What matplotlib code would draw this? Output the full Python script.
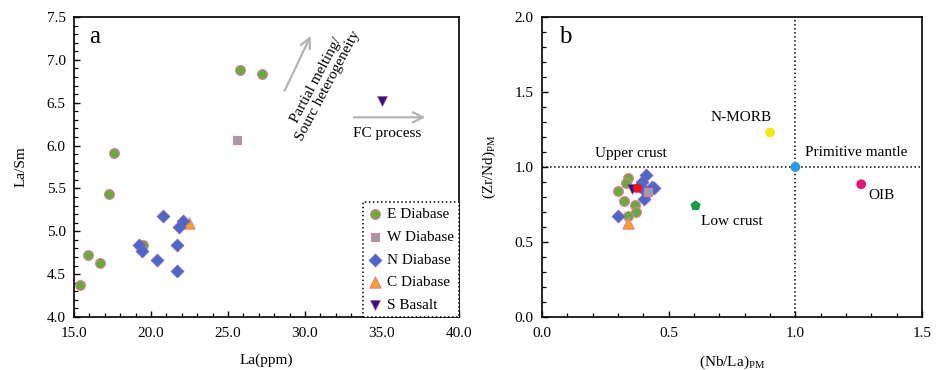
import matplotlib
matplotlib.use("Agg")
import matplotlib.pyplot as plt
from matplotlib.ticker import MultipleLocator, FormatStrFormatter

plt.rcParams['font.family'] = ['Liberation Serif', 'DejaVu Serif']
plt.rcParams['font.size'] = 11

# ---------------- Panel a data: La (ppm) vs La/Sm ----------------
e_la = [15.4, 15.9, 16.7, 17.3, 17.6, 19.5, 25.8, 27.2]
e_lasm = [4.37, 4.72, 4.63, 5.43, 5.91, 4.84, 6.88, 6.83]
w_la = [25.6]
w_lasm = [6.06]
n_la = [19.2, 19.4, 20.4, 20.8, 21.7, 21.7, 21.8, 22.1]
n_lasm = [4.84, 4.77, 4.66, 5.18, 4.84, 4.54, 5.05, 5.12]
c_la = [22.5]
c_lasm = [5.10]
s_la = [35.0]
s_lasm = [6.52]

# ---------------- Panel b data: (Nb/La)PM vs (Zr/Nd)PM ----------------
e_nbla = [0.338, 0.331, 0.301, 0.322, 0.368, 0.371, 0.340]
e_zrnd = [0.929, 0.895, 0.840, 0.775, 0.747, 0.702, 0.675]
n_nbla = [0.412, 0.395, 0.432, 0.390, 0.415, 0.402, 0.301, 0.442]
n_zrnd = [0.945, 0.900, 0.870, 0.870, 0.830, 0.790, 0.673, 0.860]
w_nbla = [0.417]
w_zrnd = [0.835]
c_nbla = [0.340]
c_zrnd = [0.630]
s_nbla = [0.354]
s_zrnd = [0.853]
ref_names = ['Upper crust', 'N-MORB', 'Primitive mantle', 'OIB', 'Low crust']
ref_nbla = [0.377, 0.90, 1.0, 1.26, 0.606]
ref_zrnd = [0.858, 1.23, 1.0, 0.885, 0.742]

EDGE = '#d9819b'
C_E = '#6aaa3c'
C_W = '#9c9ea6'
C_N = '#4a68c8'
C_C = '#f8a21e'
C_S = '#2a1888'

fig = plt.figure(figsize=(9.39, 3.70), dpi=100)
axa = fig.add_axes([0.0788, 0.1432, 0.4100, 0.8108])
axb = fig.add_axes([0.5773, 0.1432, 0.4046, 0.8108])

ms = 50
def style_axis(ax):
    ax.tick_params(which='both', direction='in', top=False, right=False, labelsize=11)
    ax.tick_params(which='major', length=4, width=1)
    ax.tick_params(which='minor', length=3, width=0.9)
    ax.tick_params(axis='x', which='major', pad=7)
    ax.tick_params(axis='y', which='major', pad=6)
    for s in ax.spines.values():
        s.set_linewidth(1.2)

# Panel a
axa.scatter(e_la, e_lasm, s=ms, marker='o', c=C_E, edgecolors=EDGE, linewidths=0.8, zorder=3, label='E Diabase')
axa.scatter(w_la, w_lasm, s=ms*0.8, marker='s', c=C_W, edgecolors=EDGE, linewidths=0.8, zorder=3, label='W Diabase')
axa.scatter(n_la, n_lasm, s=ms*0.85, marker='D', c=C_N, edgecolors='#8a5fb8', linewidths=0.6, zorder=4, label='N Diabase')
axa.scatter(c_la, c_lasm, s=ms*1.3, marker='^', c=C_C, edgecolors=EDGE, linewidths=0.8, zorder=3, label='C Diabase')
axa.scatter(s_la, s_lasm, s=ms, marker='v', c=C_S, edgecolors='#c04080', linewidths=0.5, zorder=3, label='S Basalt')

axa.set_xlim(15, 40)
axa.set_ylim(4.0, 7.5)
axa.xaxis.set_major_locator(MultipleLocator(5))
axa.xaxis.set_minor_locator(MultipleLocator(1))
axa.yaxis.set_major_locator(MultipleLocator(0.5))
axa.yaxis.set_minor_locator(MultipleLocator(0.1))
axa.xaxis.set_major_formatter(FormatStrFormatter('%.1f'))
axa.yaxis.set_major_formatter(FormatStrFormatter('%.1f'))
style_axis(axa)
axa.set_xlabel('La(ppm)', labelpad=10)
axa.set_ylabel('La/Sm', labelpad=14)
axa.text(0.04, 0.935, 'a', transform=axa.transAxes, fontsize=18, va='center', ha='left')

axa.annotate('', xy=(30.45, 7.31), xytext=(28.6, 6.61),
             arrowprops=dict(arrowstyle='->', color='#b4b4b4', lw=1.6, mutation_scale=18))
axa.text(31.15, 6.73, 'Partial melting/\nSourc heterogeneity', rotation=62, ha='center', va='center',
         fontsize=11, linespacing=1.0, rotation_mode='anchor')
axa.annotate('', xy=(38.0, 6.33), xytext=(33.0, 6.33),
             arrowprops=dict(arrowstyle='->', color='#b4b4b4', lw=1.6, mutation_scale=18))
axa.text(33.1, 6.14, 'FC process', ha='left', va='center', fontsize=11)

leg = axa.legend(loc='lower right', bbox_to_anchor=(1.0, 0.0), borderaxespad=0.0, frameon=True,
                 fancybox=False, handletextpad=0.3, handlelength=0.9, labelspacing=0.58,
                 borderpad=0.35, fontsize=11, scatterpoints=1, framealpha=1)
leg.get_frame().set_edgecolor('black')
leg.get_frame().set_linestyle(':')
leg.get_frame().set_linewidth(1.1)

# Panel b
axb.axhline(1.0, color='black', ls=':', lw=1.1, zorder=1)
axb.axvline(1.0, color='black', ls=':', lw=1.1, zorder=1)
axb.scatter(e_nbla, e_zrnd, s=ms, marker='o', c=C_E, edgecolors=EDGE, linewidths=0.8, zorder=3)
axb.scatter(n_nbla, n_zrnd, s=ms*0.85, marker='D', c=C_N, edgecolors='#8a5fb8', linewidths=0.6, zorder=3)
axb.scatter(w_nbla, w_zrnd, s=ms*0.8, marker='s', c=C_W, edgecolors=EDGE, linewidths=0.8, zorder=4)
axb.scatter(c_nbla, c_zrnd, s=ms*1.3, marker='^', c=C_C, edgecolors=EDGE, linewidths=0.8, zorder=4)
axb.scatter(s_nbla, s_zrnd, s=ms, marker='v', c=C_S, edgecolors='#c04080', linewidths=0.5, zorder=4)

ref_colors = ['#e8141e', '#f4e61c', '#2a9be0', '#e2157d', '#1a9a48']
ref_markers = ['p', 'o', 'o', 'o', 'p']
for x, y, c, m in zip(ref_nbla, ref_zrnd, ref_colors, ref_markers):
    axb.scatter([x], [y], s=ms*1.2 if m == 'p' else ms, marker=m, c=c, edgecolors='none', zorder=5)

label_pos = [(0.21, 1.09, 'left'), (0.785, 1.33, 'center'), (1.04, 1.10, 'left'),
             (1.29, 0.81, 'left'), (0.627, 0.635, 'left')]
for name, (tx, ty, ha) in zip(ref_names, label_pos):
    axb.text(tx, ty, name, ha=ha, va='center', fontsize=11)

axb.set_xlim(0, 1.5)
axb.set_ylim(0, 2.0)
axb.xaxis.set_major_locator(MultipleLocator(0.5))
axb.xaxis.set_minor_locator(MultipleLocator(0.1))
axb.yaxis.set_major_locator(MultipleLocator(0.5))
axb.yaxis.set_minor_locator(MultipleLocator(0.1))
axb.xaxis.set_major_formatter(FormatStrFormatter('%.1f'))
axb.yaxis.set_major_formatter(FormatStrFormatter('%.1f'))
style_axis(axb)
axb.set_xlabel(r'(Nb/La)$_{\mathregular{PM}}$', labelpad=10)
axb.set_ylabel(r'(Zr/Nd)$_{\mathregular{PM}}$', labelpad=12)
axb.text(0.045, 0.935, 'b', transform=axb.transAxes, fontsize=18, va='center', ha='left')

fig.savefig('out.png', dpi=100)
